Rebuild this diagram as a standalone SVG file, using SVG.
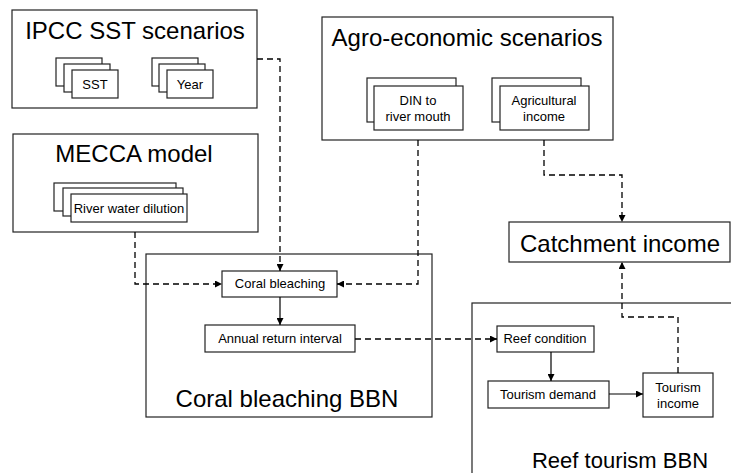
<svg xmlns="http://www.w3.org/2000/svg" width="731" height="473" viewBox="0 0 731 473">
<style>
.box{fill:#fff;stroke:#222;stroke-width:1.2}
.t{font-family:"Liberation Sans",Arial,sans-serif;fill:#000;text-anchor:middle}
.big{font-size:24px}
.sm{font-size:13px}
.dash{fill:none;stroke:#000;stroke-width:1.3;stroke-dasharray:6 4}
.solid{fill:none;stroke:#000;stroke-width:1.2}
</style>
<defs>
<marker id="ah" viewBox="0 0 10 10" refX="10" refY="5" markerWidth="7" markerHeight="7" markerUnits="userSpaceOnUse" orient="auto">
<path d="M0,0 L10,5 L0,10 z" fill="#000"/>
</marker>
</defs>
<rect width="731" height="473" fill="#fff"/>

<g id="ipcc">
<rect class="box" x="12" y="10" width="245" height="98"/>
<text class="t big" x="135" y="39">IPCC SST scenarios</text>
<g id="sst">
<rect class="box" x="56" y="58" width="46" height="28"/>
<rect class="box" x="64" y="64" width="46" height="28"/>
<rect class="box" x="72" y="70" width="46" height="28"/>
<text class="t sm" x="95" y="89">SST</text>
</g>
<g id="year">
<rect class="box" x="152" y="58" width="46" height="28"/>
<rect class="box" x="159" y="64" width="46" height="28"/>
<rect class="box" x="167" y="70" width="46" height="28"/>
<text class="t sm" x="190" y="89">Year</text>
</g>
</g>

<g id="agro">
<rect class="box" x="322" y="17" width="291" height="123"/>
<text class="t big" x="467" y="46">Agro-economic scenarios</text>
<g id="din">
<rect class="box" x="367" y="78" width="89" height="44"/>
<rect class="box" x="374" y="86" width="89" height="44"/>
<text class="t sm" x="418" y="105">DIN to</text>
<text class="t sm" x="418" y="121">river mouth</text>
</g>
<g id="agri">
<rect class="box" x="492" y="78" width="89" height="44"/>
<rect class="box" x="500" y="86" width="89" height="44"/>
<text class="t sm" x="544" y="105">Agricultural</text>
<text class="t sm" x="544" y="121">income</text>
</g>
</g>

<g id="mecca">
<rect class="box" x="13" y="134" width="245" height="98"/>
<text class="t big" x="134" y="162">MECCA model</text>
<rect class="box" x="54" y="183" width="122" height="28"/>
<rect class="box" x="63" y="188" width="120" height="28"/>
<rect class="box" x="71" y="194" width="116" height="28"/>
<text class="t sm" x="129" y="213">River water dilution</text>
</g>

<g id="coral-bbn">
<rect class="box" x="146" y="254" width="286" height="163"/>
<text class="t big" x="287" y="407">Coral bleaching BBN</text>
</g>

<g id="reef-bbn">
<rect class="box" x="472" y="303" width="270" height="180"/>
<text class="t" style="font-size:22px" x="620" y="468">Reef tourism BBN</text>
</g>

<g id="catchment">
<rect class="box" x="509" y="222" width="221" height="40"/>
<text class="t big" x="620" y="252">Catchment income</text>
</g>

<g id="coral-bleaching">
<rect class="box" x="222" y="271" width="115" height="26"/>
<text class="t sm" x="280" y="288">Coral bleaching</text>
</g>

<g id="annual">
<rect class="box" x="205" y="325" width="150" height="27"/>
<text class="t sm" x="280" y="343">Annual return interval</text>
</g>

<g id="reef-condition">
<rect class="box" x="497" y="326" width="97" height="26"/>
<text class="t sm" x="545" y="343">Reef condition</text>
</g>

<g id="tourism-demand">
<rect class="box" x="488" y="381" width="121" height="27"/>
<text class="t sm" x="548" y="399">Tourism demand</text>
</g>

<g id="tourism-income">
<rect class="box" x="643" y="373" width="70" height="44"/>
<text class="t sm" x="678" y="392">Tourism</text>
<text class="t sm" x="678" y="408">income</text>
</g>

<g id="connectors">
<path class="dash" d="M257,59 H280 V271" marker-end="url(#ah)"/>
<path class="dash" d="M135,232 V284 H222" marker-end="url(#ah)"/>
<path class="dash" d="M418,140 V284 H337" marker-end="url(#ah)"/>
<path class="solid" d="M280,297 V325" marker-end="url(#ah)"/>
<path class="dash" d="M355,339 H497" marker-end="url(#ah)"/>
<path class="dash" d="M544,140 V175 H622 V222" marker-end="url(#ah)"/>
<path class="solid" d="M551,352 V381" marker-end="url(#ah)"/>
<path class="solid" d="M609,394 H643" marker-end="url(#ah)"/>
<path class="dash" d="M678,373 V317 H622 V262" marker-end="url(#ah)"/>
</g>
</svg>
